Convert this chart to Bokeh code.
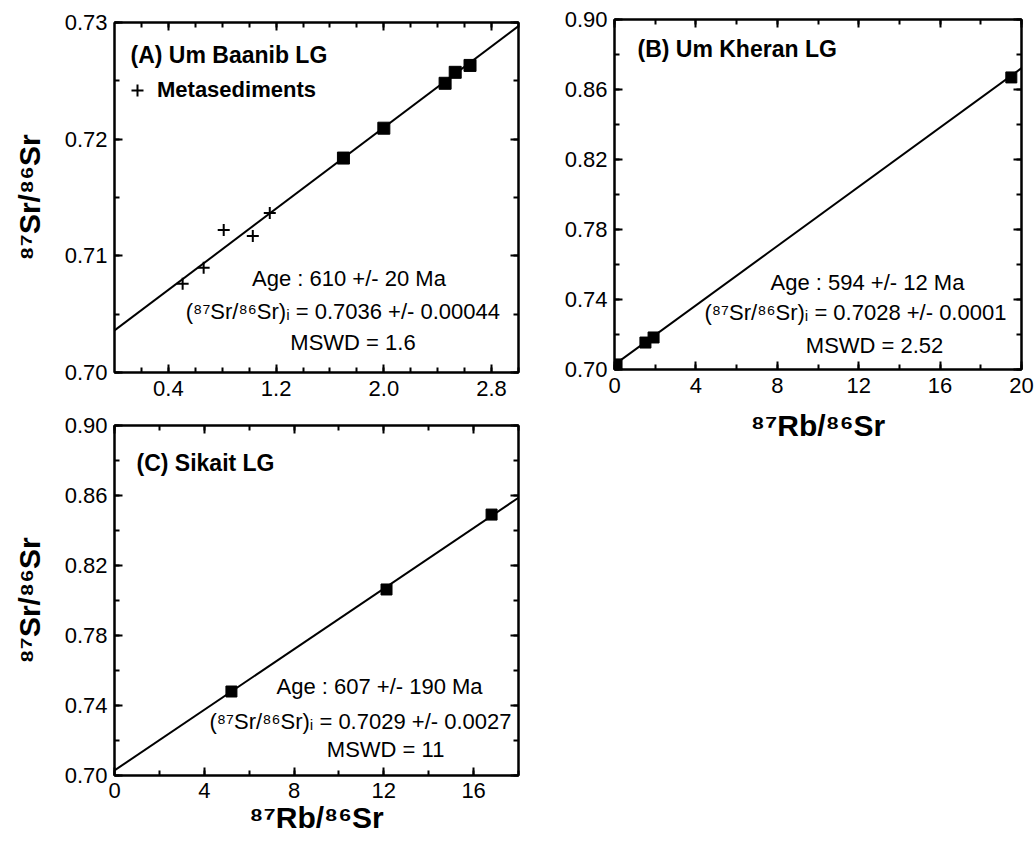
import math
from bokeh.plotting import figure
from bokeh.models import (LinearAxis, FixedTicker, NumeralTickFormatter, Range1d,
                          Label, Legend, LegendItem)
from bokeh.layouts import row, column
from bokeh.embed import file_html
from bokeh.resources import INLINE

FONT = "Liberation Sans"

# ---------------- data ----------------
# Panel A : Um Baanib LG
a_granite_x = [1.70, 2.00, 2.455, 2.53, 2.64]
a_granite_y = [0.71838, 0.72094, 0.72479, 0.72573, 0.72632]
a_meta_x = [0.506, 0.662, 0.811, 1.027, 1.153]
a_meta_y = [0.70761, 0.70897, 0.71222, 0.71171, 0.71368]
a_x_range = [0.0, 3.0]
a_y_range = [0.70, 0.73]
a_x_ticks = [0.4, 1.2, 2.0, 2.8]
a_x_minor = [0.2, 0.4, 0.6, 0.8, 1.0, 1.2, 1.4, 1.6, 1.8, 2.0, 2.2, 2.4, 2.6, 2.8, 3.0]
a_y_ticks = [0.70, 0.71, 0.72, 0.73]
a_y_minor = [0.700, 0.705, 0.710, 0.715, 0.720, 0.725, 0.730]
a_title = "(A) Um Baanib LG"
a_legend_label = "Metasediments"
a_stats = ["Age : 610 +/- 20 Ma",
           "(\u2078\u2077Sr/\u2078\u2076Sr)\u1d62 = 0.7036 +/- 0.00044",
           "MSWD = 1.6"]

# Panel B : Um Kheran LG
b_x = [0.1, 1.52, 1.92, 19.5]
b_y = [0.7029, 0.7154, 0.7183, 0.8669]
b_x_range = [0.0, 20.0]
b_y_range = [0.70, 0.90]
b_x_ticks = [0, 4, 8, 12, 16, 20]
b_x_minor = [0, 2, 4, 6, 8, 10, 12, 14, 16, 18, 20]
b_y_ticks = [0.70, 0.74, 0.78, 0.82, 0.86, 0.90]
b_y_minor = [0.70, 0.72, 0.74, 0.76, 0.78, 0.80, 0.82, 0.84, 0.86, 0.88, 0.90]
b_title = "(B) Um Kheran LG"
b_stats = ["Age : 594 +/- 12 Ma",
           "(\u2078\u2077Sr/\u2078\u2076Sr)\u1d62 = 0.7028 +/- 0.0001",
           "MSWD = 2.52"]

# Panel C : Sikait LG
c_x = [5.21, 12.12, 16.80]
c_y = [0.7480, 0.8063, 0.8491]
c_x_range = [0.0, 18.0]
c_y_range = [0.70, 0.90]
c_x_ticks = [0, 4, 8, 12, 16]
c_x_minor = [0, 2, 4, 6, 8, 10, 12, 14, 16, 18]
c_y_ticks = [0.70, 0.74, 0.78, 0.82, 0.86, 0.90]
c_y_minor = [0.70, 0.72, 0.74, 0.76, 0.78, 0.80, 0.82, 0.84, 0.86, 0.88, 0.90]
c_title = "(C) Sikait LG"
c_stats = ["Age : 607 +/- 190 Ma",
           "(\u2078\u2077Sr/\u2078\u2076Sr)\u1d62 = 0.7029 +/- 0.0027",
           "MSWD = 11"]

# isochron parameters (age in Ma, initial ratio)
iso_age_ma = [610, 594, 607]
iso_initial = [0.7036, 0.7028, 0.7029]
LAMBDA_RB = 1.42e-11

Y_LABEL = "\u2078\u2077Sr/\u2078\u2076Sr"
X_LABEL = "\u2078\u2077Rb/\u2078\u2076Sr"


def style_axis(ax, labels=True, standoff=7):
    ax.axis_line_color = "black"
    ax.axis_line_width = 2
    ax.major_tick_in = 8
    ax.major_tick_out = 0
    ax.minor_tick_in = 5
    ax.minor_tick_out = 0
    ax.major_tick_line_color = "black"
    ax.minor_tick_line_color = "black"
    ax.major_tick_line_width = 2
    ax.minor_tick_line_width = 2
    ax.major_label_text_font = FONT
    if labels:
        ax.major_label_text_color = "black"
        ax.major_label_text_font_size = "22px"
        ax.major_label_standoff = standoff
    else:
        ax.major_label_text_color = None
        ax.major_label_text_font_size = "1px"
        ax.major_label_standoff = 0
    ax.axis_label_text_font = FONT
    ax.axis_label_text_font_style = "bold"
    ax.axis_label_text_font_size = "30px"
    ax.axis_label_text_color = "black"


def make_panel(xr, yr, xt, xm, yt, ym, xfmt, width, height, borders, xstand=8):
    left, right, top, bottom = borders
    p = figure(width=width, height=height,
               x_range=Range1d(*xr), y_range=Range1d(*yr),
               output_backend="svg", toolbar_location=None,
               x_axis_location=None, y_axis_location=None,
               min_border_left=left, min_border_right=right,
               min_border_top=top, min_border_bottom=bottom)
    p.grid.visible = False
    p.outline_line_color = "black"
    p.outline_line_width = 2
    p.background_fill_color = "white"
    p.border_fill_color = "white"
    xtick = FixedTicker(ticks=xt, minor_ticks=xm)
    ytick = FixedTicker(ticks=yt, minor_ticks=ym)
    xb = LinearAxis(ticker=xtick, formatter=NumeralTickFormatter(format=xfmt))
    yl = LinearAxis(ticker=ytick, formatter=NumeralTickFormatter(format="0.00"))
    xa = LinearAxis(ticker=xtick)
    yr_ax = LinearAxis(ticker=ytick)
    style_axis(xb, True, xstand)
    style_axis(yl, True, 7)
    style_axis(xa, False)
    style_axis(yr_ax, False)
    p.add_layout(xb, "below")
    p.add_layout(yl, "left")
    p.add_layout(xa, "above")
    p.add_layout(yr_ax, "right")
    return p, xb, yl


def add_isochron(p, xr, idx):
    slope = math.exp(LAMBDA_RB * iso_age_ma[idx] * 1e6) - 1.0
    xs = list(xr)
    ys = [iso_initial[idx] + slope * x for x in xs]
    p.line(xs, ys, line_color="black", line_width=2)


def add_text(p, title, tpos, stats, spos):
    p.add_layout(Label(x=tpos[0], y=tpos[1], text=title, text_font=FONT,
                       text_font_size="23px", text_font_style="bold",
                       text_baseline="middle", text_align="left", text_color="black"))
    for s, (x, y) in zip(stats, spos):
        p.add_layout(Label(x=x, y=y, text=s, text_font=FONT, text_font_size="22px",
                           text_baseline="middle", text_align="center", text_color="black"))


# ---------------- Panel A ----------------
pA, pA_x, pA_y = make_panel(a_x_range, a_y_range, a_x_ticks, a_x_minor, a_y_ticks, a_y_minor,
                            "0.0", 560, 412, (114, 42, 22, 40))
pA_y.axis_label = Y_LABEL
pA_y.axis_label_standoff = 16
add_isochron(pA, a_x_range, 0)
cross_r = pA.scatter(a_meta_x, a_meta_y, marker="cross", size=12,
                     line_color="black", line_width=2)
pA.scatter(a_granite_x, a_granite_y, marker="square", size=12,
           fill_color="black", line_color="black")
legA = Legend(items=[LegendItem(label=a_legend_label, renderers=[cross_r])],
              location="top_left", margin=0, padding=8, glyph_width=30,
              glyph_height=120, label_height=120, label_standoff=5,
              label_text_font=FONT, label_text_font_size="22px",
              label_text_font_style="bold", label_text_color="black",
              border_line_alpha=0, background_fill_alpha=0)
pA.add_layout(legA)
add_text(pA, a_title, (0.119, 0.72722), a_stats,
         [(1.741, 0.70803), (1.696, 0.70521), (1.771, 0.70256)])

# ---------------- Panel B ----------------
pB, pB_x, pB_y = make_panel(b_x_range, b_y_range, b_x_ticks, b_x_minor, b_y_ticks, b_y_minor,
                            "0", 474, 452, (54, 13, 19, 83))
pB_x.axis_label = X_LABEL
pB_x.axis_label_standoff = 13
add_isochron(pB, b_x_range, 1)
pB.scatter(b_x, b_y, marker="square", size=11, fill_color="black", line_color="black")
add_text(pB, b_title, (1.13, 0.8831), b_stats,
         [(12.43, 0.7497), (11.84, 0.7326), (12.78, 0.7137)])

# ---------------- Panel C ----------------
pC, pC_x, pC_y = make_panel(c_x_range, c_y_range, c_x_ticks, c_x_minor, c_y_ticks, c_y_minor,
                            "0", 560, 430, (114, 42, 13, 67), xstand=7)
pC_x.axis_label = X_LABEL
pC_x.axis_label_standoff = 0
pC_y.axis_label = Y_LABEL
pC_y.axis_label_standoff = 16
add_isochron(pC, c_x_range, 2)
pC.scatter(c_x, c_y, marker="square", size=11, fill_color="black", line_color="black")
add_text(pC, c_title, (0.98, 0.8786), c_stats,
         [(11.81, 0.7506), (10.96, 0.7306), (12.08, 0.7146)])

layout = row(column(pA, pC), pB)
open("out.html", "w").write(file_html(layout, INLINE))
